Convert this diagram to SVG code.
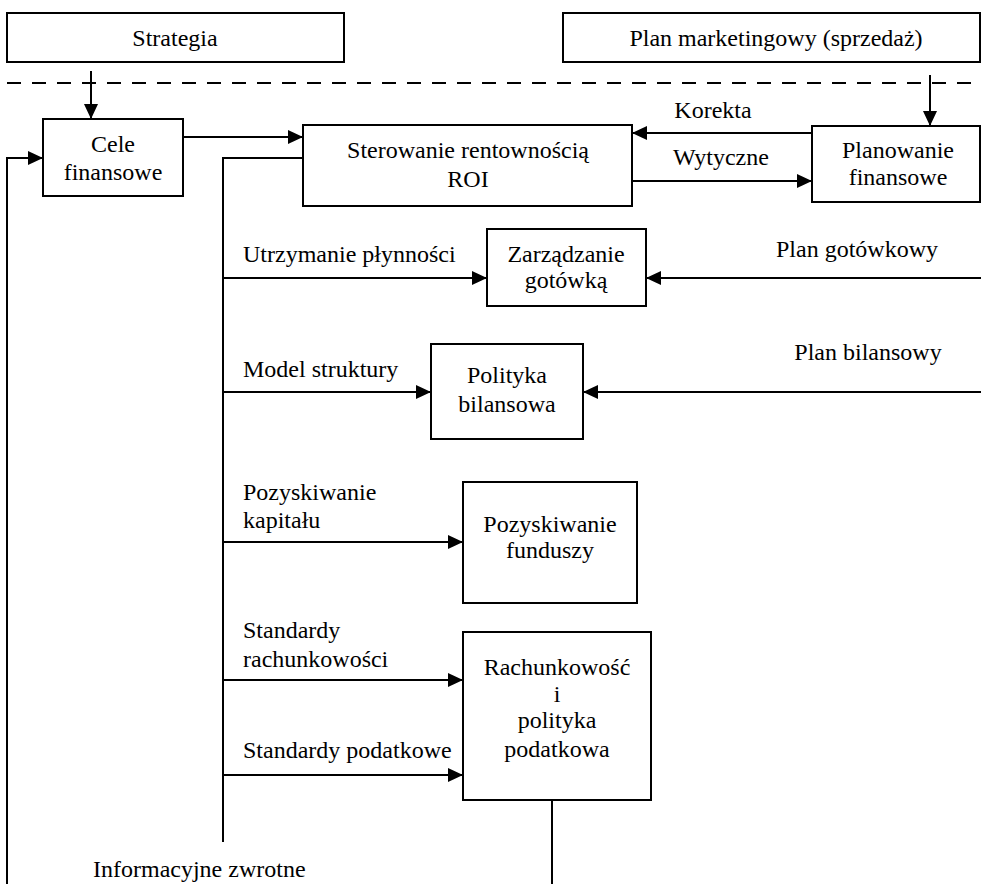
<svg xmlns="http://www.w3.org/2000/svg" width="981" height="884" viewBox="0 0 981 884">
<style>
.box{fill:#fff;stroke:#000;stroke-width:2}
.ln{fill:none;stroke:#000;stroke-width:2}
.ar{fill:none;stroke:#000;stroke-width:2;marker-end:url(#ah)}
text{font-family:'Liberation Serif','Times New Roman','DejaVu Serif',serif;font-size:24px;fill:#000}
.c{text-anchor:middle}
</style>
<defs>
<marker id="ah" markerUnits="userSpaceOnUse" markerWidth="16" markerHeight="16" refX="15" refY="7" orient="auto" viewBox="0 0 16 14">
<path d="M0,0 L15,7 L0,14 z" fill="#000"/>
</marker>
</defs>
<rect width="981" height="884" fill="#fff"/>

<g id="connectors" font-family="Liberation Serif, serif">
<line class="ln" x1="7" y1="83" x2="981" y2="83" stroke-dasharray="14 11"/>
<line class="ar" x1="91" y1="71" x2="91" y2="119"/>
<line class="ar" x1="930" y1="75" x2="930" y2="126"/>
<line class="ar" x1="183" y1="137" x2="303" y2="137"/>
<line class="ar" x1="812" y1="133" x2="632" y2="133"/>
<line class="ar" x1="632" y1="181" x2="812" y2="181"/>
<polyline class="ar" points="7,884 7,158 43,158"/>
<polyline class="ln" points="303,158 223,158 223,842"/>
<line class="ar" x1="223" y1="278" x2="487" y2="278"/>
<line class="ar" x1="981" y1="278" x2="646" y2="278"/>
<line class="ar" x1="223" y1="392" x2="431" y2="392"/>
<line class="ar" x1="981" y1="392" x2="583" y2="392"/>
<line class="ar" x1="223" y1="542" x2="463" y2="542"/>
<line class="ar" x1="223" y1="680" x2="463" y2="680"/>
<line class="ar" x1="223" y1="775" x2="463" y2="775"/>
<line class="ln" x1="552" y1="800" x2="552" y2="884"/>
<text x="713" y="118" class="c">Korekta</text>
<text x="721" y="165" class="c">Wytyczne</text>
<text x="243" y="262">Utrzymanie płynności</text>
<text x="857" y="257" class="c">Plan gotówkowy</text>
<text x="243" y="377">Model struktury</text>
<text x="868" y="360" class="c">Plan bilansowy</text>
<text x="243" y="500">Pozyskiwanie</text>
<text x="243" y="528">kapitału</text>
<text x="243" y="638">Standardy</text>
<text x="243" y="667">rachunkowości</text>
<text x="243" y="758">Standardy podatkowe</text>
<text x="93" y="877">Informacyjne zwrotne</text>
</g>

<g id="strategia">
<rect class="box" x="7" y="13" width="337" height="49"/>
<text x="175" y="46" class="c">Strategia</text>
</g>
<g id="plan-marketingowy">
<rect class="box" x="563" y="13" width="417" height="49"/>
<text x="776" y="46" class="c">Plan marketingowy (sprzedaż)</text>
</g>
<g id="cele">
<rect class="box" x="43" y="119" width="140" height="77"/>
<text x="113" y="152" class="c">Cele</text>
<text x="113" y="180" class="c">finansowe</text>
</g>
<g id="sterowanie">
<rect class="box" x="303" y="125" width="329" height="81"/>
<text x="468" y="158" class="c">Sterowanie rentownością</text>
<text x="468" y="187" class="c">ROI</text>
</g>
<g id="planowanie">
<rect class="box" x="812" y="126" width="168" height="76"/>
<text x="898" y="158" class="c">Planowanie</text>
<text x="898" y="185" class="c">finansowe</text>
</g>
<g id="zarzadzanie">
<rect class="box" x="487" y="229" width="159" height="77"/>
<text x="566" y="262" class="c">Zarządzanie</text>
<text x="566" y="288" class="c">gotówką</text>
</g>
<g id="polityka">
<rect class="box" x="431" y="344" width="152" height="95"/>
<text x="507" y="383" class="c">Polityka</text>
<text x="507" y="412" class="c">bilansowa</text>
</g>
<g id="pozyskiwanie">
<rect class="box" x="463" y="482" width="174" height="121"/>
<text x="550" y="532" class="c">Pozyskiwanie</text>
<text x="550" y="558" class="c">funduszy</text>
</g>
<g id="rachunkowosc">
<rect class="box" x="463" y="632" width="188" height="168"/>
<text x="557" y="675" class="c">Rachunkowość</text>
<text x="557" y="702" class="c">i</text>
<text x="557" y="728" class="c">polityka</text>
<text x="557" y="757" class="c">podatkowa</text>
</g>
</svg>
